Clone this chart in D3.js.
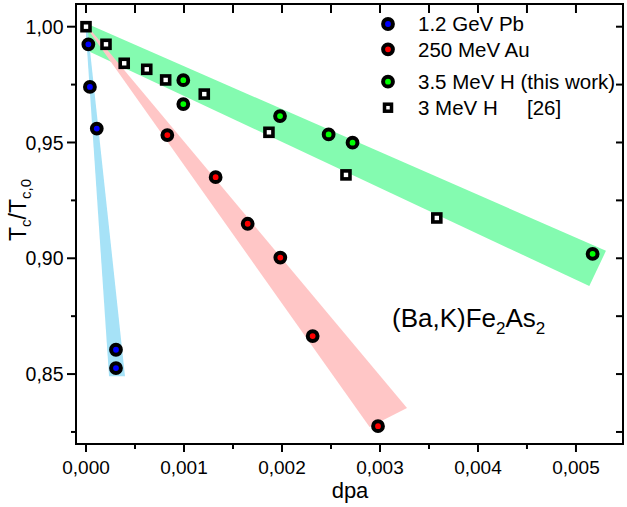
<!DOCTYPE html>
<html>
<head>
<meta charset="utf-8">
<script src="https://cdn.jsdelivr.net/npm/d3@7"></script>
<style>
  html, body { margin: 0; padding: 0; background: #fff; }
  svg { display: block; font-family: 'Liberation Sans', Arial, sans-serif; }
</style>
</head>
<body>
<div id="chart"></div>
<script>
// ── data ─────────────────────────────────────────────────────────
const pbX = [0.000024, 0.00004, 0.00011, 0.000306, 0.000306]
const pbY = [0.9924, 0.974, 0.956, 0.8605, 0.8526]

const auX = [0.00083, 0.001323, 0.00165, 0.001983, 0.002313, 0.00298]
const auY = [0.9532, 0.935, 0.9149, 0.9003, 0.8664, 0.8275]

const hX = [0.000993, 0.000993, 0.00198, 0.002476, 0.00272, 0.00517]
const hY = [0.9769, 0.9666, 0.9614, 0.9535, 0.9499, 0.9019]

const h26X = [0, 0.000204, 0.00039, 0.00062, 0.000813, 0.001207, 0.001867, 0.002653, 0.00358]
const h26Y = [1.0, 0.9924, 0.9842, 0.9816, 0.977, 0.9709, 0.9544, 0.936, 0.9174]

// guide bands (corner points, data units)
const pbBand = [[-0.000005, 1.0], [0.000015, 1.0], [0.000398, 0.8491], [0.000235, 0.8491]]
const auBand = [[0, 1.0], [0.00002, 1.0], [0.003276, 0.8353], [0.002894, 0.8271]]
const hBand  = [[0, 1.0015], [0.005306, 0.9032], [0.005136, 0.888], [0, 0.9899]]

const xTicks = [0, 0.001, 0.002, 0.003, 0.004, 0.005]
const yTicks = [0.85, 0.90, 0.95, 1.00]
const legendLabels = ['1.2 GeV Pb', '250 MeV Au', '3.5 MeV H (this work)', '3 MeV H']

const fmtComma = (d, n) => d.toFixed(n).replace('.', ',')

// ── layout ───────────────────────────────────────────────────────
const W = 627, H = 507
const PLOT = { left: 76, right: 623, top: 4, bottom: 444 }

const svg = d3.select('#chart').append('svg')
  .attr('width', W).attr('height', H)

const x = d3.scaleLinear().domain([-0.000102, 0.00548]).range([PLOT.left, PLOT.right])
const y = d3.scaleLinear().domain([0.8198, 1.0098]).range([PLOT.bottom, PLOT.top])

// ── bands ────────────────────────────────────────────────────────
const poly = d3.line().x(d => x(d[0])).y(d => y(d[1]))
const gBands = svg.append('g')
gBands.append('path').attr('d', poly(hBand) + 'Z').attr('fill', '#84fbb0')
gBands.append('path').attr('d', poly(auBand) + 'Z').attr('fill', '#ffc6c6')
gBands.append('path').attr('d', poly(pbBand) + 'Z').attr('fill', '#a6e2f7')

// ── axes ─────────────────────────────────────────────────────────
const xMinor = d3.range(0.0005, 0.0055, 0.001)
const yMinor = [0.825, 0.875, 0.925, 0.975]

const gAxes = svg.append('g').attr('stroke', '#000').attr('stroke-width', 2)

// bottom (outward)
gAxes.selectAll('.xb').data(xTicks).join('line')
  .attr('x1', d => x(d)).attr('x2', d => x(d))
  .attr('y1', PLOT.bottom).attr('y2', PLOT.bottom + 8)
gAxes.selectAll('.xbm').data(xMinor).join('line')
  .attr('x1', d => x(d)).attr('x2', d => x(d))
  .attr('y1', PLOT.bottom).attr('y2', PLOT.bottom + 5)

// top (inward)
gAxes.selectAll('.xt').data(xTicks.concat(xMinor)).join('line')
  .attr('x1', d => x(d)).attr('x2', d => x(d))
  .attr('y1', PLOT.top).attr('y2', PLOT.top + 9)

// left (outward)
gAxes.selectAll('.yl').data(yTicks).join('line')
  .attr('x1', PLOT.left - 9).attr('x2', PLOT.left)
  .attr('y1', d => y(d)).attr('y2', d => y(d))
gAxes.selectAll('.ylm').data(yMinor).join('line')
  .attr('x1', PLOT.left - 5).attr('x2', PLOT.left)
  .attr('y1', d => y(d)).attr('y2', d => y(d))

// right (inward)
gAxes.selectAll('.yr').data(yTicks.concat(yMinor)).join('line')
  .attr('x1', PLOT.right - 7).attr('x2', PLOT.right)
  .attr('y1', d => y(d)).attr('y2', d => y(d))

gAxes.append('rect')
  .attr('x', PLOT.left).attr('y', PLOT.top)
  .attr('width', PLOT.right - PLOT.left).attr('height', PLOT.bottom - PLOT.top)
  .attr('fill', 'none')

// tick labels
svg.append('g').selectAll('text').data(xTicks).join('text')
  .attr('x', d => x(d)).attr('y', 474)
  .attr('text-anchor', 'middle').style('font-size', '19px')
  .text(d => fmtComma(d, 3))

svg.append('g').selectAll('text').data(yTicks).join('text')
  .attr('x', 63.5).attr('y', d => y(d)).attr('dy', '0.36em')
  .attr('text-anchor', 'end').style('font-size', '19.5px')
  .text(d => fmtComma(d, 2))

// axis titles
svg.append('text').attr('x', 350).attr('y', 498)
  .attr('text-anchor', 'middle').style('font-size', '22px').text('dpa')

const yLab = svg.append('text')
  .attr('transform', 'translate(26,210) rotate(-90)')
  .attr('text-anchor', 'middle').style('font-size', '23px')
yLab.append('tspan').text('T')
yLab.append('tspan').attr('dy', 5).style('font-size', '15px').text('c')
yLab.append('tspan').attr('dy', -5).text('/T')
yLab.append('tspan').attr('dy', 5).style('font-size', '15px').text('c,0')

// ── markers ──────────────────────────────────────────────────────
const zip = (xs, ys) => xs.map((v, i) => [v, ys[i]])

function squares(g, pts) {
  g.selectAll('rect.sq').data(pts).join('rect').attr('class', 'sq')
    .attr('x', d => x(d[0]) - 4).attr('y', d => y(d[1]) - 4)
    .attr('width', 8).attr('height', 8)
    .attr('fill', '#fff').attr('stroke', '#000').attr('stroke-width', 3.6)
}
function circles(g, pts, color) {
  g.selectAll('circle').data(pts).join('circle')
    .attr('cx', d => x(d[0])).attr('cy', d => y(d[1])).attr('r', 4.9)
    .attr('fill', color).attr('stroke', '#000').attr('stroke-width', 4)
}

squares(svg.append('g'), zip(h26X, h26Y))
circles(svg.append('g'), zip(pbX, pbY), '#0000ff')
circles(svg.append('g'), zip(auX, auY), '#ff0000')
circles(svg.append('g'), zip(hX, hY), '#00ff00')

// ── legend ───────────────────────────────────────────────────────
const legendRows = [
  { y: 24,    kind: 'c', color: '#0000ff' },
  { y: 49.3,  kind: 'c', color: '#ff0000' },
  { y: 81.7,  kind: 'c', color: '#00ff00' },
  { y: 107.7, kind: 's' },
]
const gLeg = svg.append('g')
legendRows.forEach((r, i) => {
  if (r.kind === 'c') {
    gLeg.append('circle').attr('cx', 388).attr('cy', r.y).attr('r', 4.9)
      .attr('fill', r.color).attr('stroke', '#000').attr('stroke-width', 4)
  } else {
    gLeg.append('rect').attr('x', 388 - 3.5).attr('y', r.y - 3.5)
      .attr('width', 7).attr('height', 7)
      .attr('fill', '#fff').attr('stroke', '#000').attr('stroke-width', 3.5)
  }
  gLeg.append('text').attr('x', 418).attr('y', r.y + 7.2)
    .style('font-size', '20.5px').text(legendLabels[i])
})
gLeg.append('text').attr('x', 527).attr('y', 107.7 + 7.2)
  .style('font-size', '20.5px').text('[26]')

// ── annotation ───────────────────────────────────────────────────
const ann = svg.append('text').attr('x', 392).attr('y', 327).style('font-size', '26px')
ann.append('tspan').text('(Ba,K)Fe')
ann.append('tspan').attr('dy', 7).style('font-size', '17px').text('2')
ann.append('tspan').attr('dy', -7).text('As')
ann.append('tspan').attr('dy', 7).style('font-size', '17px').text('2')
</script>
</body>
</html>
